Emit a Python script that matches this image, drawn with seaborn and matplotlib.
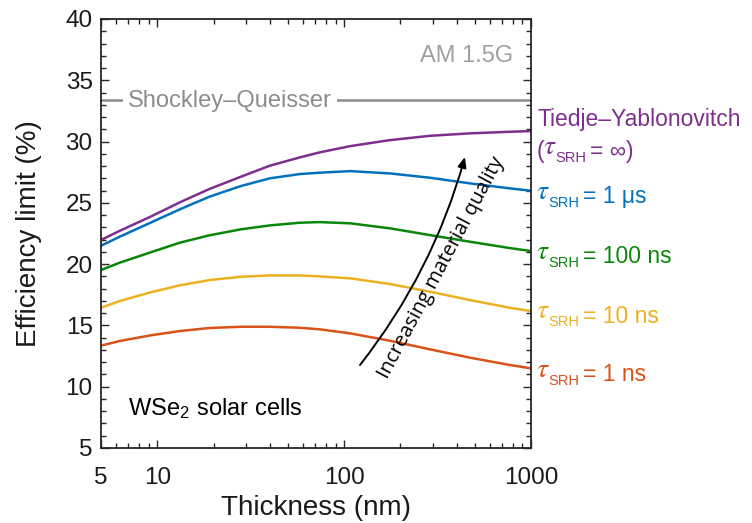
import numpy as np
import pandas as pd
import matplotlib
matplotlib.use("Agg")
import matplotlib.pyplot as plt
import seaborn as sns
from matplotlib.ticker import FixedLocator, NullFormatter, MultipleLocator, LogLocator

# ---------------- data ----------------
thickness = [5, 6.3, 9.2, 13.2, 19, 28, 40, 58, 74, 108, 176, 288, 471, 771, 1000]
eff_ty    = [21.97, 22.72, 23.87, 25.04, 26.13, 27.13, 28.03, 28.71, 29.12, 29.63, 30.12, 30.47, 30.67, 30.80, 30.86]
eff_1us   = [21.50, 22.24, 23.38, 24.47, 25.50, 26.37, 27.00, 27.35, 27.46, 27.59, 27.40, 27.05, 26.59, 26.18, 25.99]
eff_100ns = [19.52, 20.12, 20.96, 21.75, 22.35, 22.84, 23.16, 23.38, 23.43, 23.33, 22.92, 22.37, 21.83, 21.31, 21.07]
eff_10ns  = [16.44, 16.99, 17.70, 18.27, 18.70, 18.97, 19.08, 19.08, 19.00, 18.84, 18.38, 17.75, 17.07, 16.44, 16.17]
eff_1ns   = [13.35, 13.73, 14.19, 14.54, 14.79, 14.89, 14.89, 14.81, 14.68, 14.35, 13.75, 13.05, 12.37, 11.77, 11.50]
sq_limit = 33.4

series_names = ["TY", "1us", "100ns", "10ns", "1ns"]
series_vals = [eff_ty, eff_1us, eff_100ns, eff_10ns, eff_1ns]
colors = ["#7E2F8E", "#0072BD", "#0A870A", "#EDB120", "#D95319"]

tau_values = ["1 \u03bcs", "100 ns", "10 ns", "1 ns"]
tau_label_y = [24.98, 20.06, 15.22, 10.46]
tau_colors = [colors[1], colors[2], colors[3], colors[4]]
ty_label_y = [31.26, 28.63]

xticks = [5, 10, 100, 1000]
xticklabels = ["5", "10", "100", "1000"]
yticks = [5, 10, 15, 20, 25, 30, 35, 40]

# ---------------- style ----------------
sns.set_style("ticks")
plt.rcParams["font.family"] = ["Liberation Sans", "DejaVu Sans"]
plt.rcParams["mathtext.fontset"] = "custom"
plt.rcParams["mathtext.rm"] = "Liberation Sans"
plt.rcParams["mathtext.it"] = "STIXGeneral:italic"

df = pd.DataFrame({
    "Thickness": np.tile(thickness, len(series_names)),
    "Eff": np.concatenate(series_vals),
    "series": np.repeat(series_names, len(thickness)),
})

fig = plt.figure(figsize=(7.52, 5.23), dpi=100)
ax = fig.add_axes([101/752, 75/523, 430/752, 429/523])

sns.lineplot(data=df, x="Thickness", y="Eff", hue="series", hue_order=series_names,
             palette=colors, linewidth=1.8, legend=False, ax=ax, sort=True)

ax.axhline(sq_limit, color="#8C8C8C", lw=1.8, zorder=1)
ax.text(0.063, 32.84, "Shockley\u2013Queisser", transform=ax.get_yaxis_transform(),
        fontsize=17, color="#8C8C8C", va="baseline", ha="left",
        bbox=dict(boxstyle="square,pad=0.2", fc="white", ec="none"), zorder=2)

ax.set_xscale("log")
ax.set_xlim(5, 1000)
ax.set_ylim(5, 40)
ax.xaxis.set_major_locator(FixedLocator(xticks))
ax.set_xticklabels(xticklabels)
ax.xaxis.set_minor_locator(LogLocator(base=10, subs=np.arange(2, 10)))
ax.xaxis.set_minor_formatter(NullFormatter())
ax.set_yticks(yticks)
ax.yaxis.set_minor_locator(MultipleLocator(1))

ax.tick_params(which="both", direction="in", top=True, right=True, color="#262626", width=1.0)
ax.tick_params(which="major", length=6)
ax.tick_params(which="minor", length=3.5)
ax.tick_params(axis="x", which="major", labelsize=17.5, pad=14, labelcolor="#1a1a1a")
ax.tick_params(axis="y", which="major", labelsize=17.5, pad=6, labelcolor="#1a1a1a")
for sp in ax.spines.values():
    sp.set_color("#262626")
    sp.set_linewidth(1.3)

ax.set_xlabel("Thickness (nm)", fontsize=20, color="#1a1a1a", labelpad=4)
ax.set_ylabel("Efficiency limit (%)", fontsize=20, color="#1a1a1a", labelpad=17)

ax.text(0.958, 0.900, "AM 1.5G", transform=ax.transAxes, ha="right", va="baseline",
        fontsize=17, color="#A0A0A0")
ax.text(0.063, 0.0746, "WSe$_2$ solar cells", transform=ax.transAxes, ha="left",
        va="baseline", fontsize=17, color="black")

ytrans = ax.get_yaxis_transform()
PX = 72.0 / 100.0  # points per pixel


def put(txt, yv, dx_px, dy_px, color, size, **kw):
    ax.annotate(txt, xy=(1.0, yv), xycoords=ytrans, xytext=(dx_px * PX, dy_px * PX),
                textcoords="offset points", ha="left", va="baseline", fontsize=size,
                color=color, annotation_clip=False, **kw)


def tau_label(yv, color, tau_dx, rest, rest_dx):
    put("\u03c4", yv, tau_dx, 4.5, color, 20, family=["STIXGeneral", "DejaVu Serif"], style="italic")
    put("SRH", yv, tau_dx + 11, -3.5, color, 10.5)
    put(rest, yv, rest_dx, 0, color, 16.5)


# Tiedje-Yablonovitch labels
put("Tiedje\u2013Yablonovitch", ty_label_y[0], 6, 0, colors[0], 16.5)
put("(", ty_label_y[1], 6, 0, colors[0], 16.5)
tau_label(ty_label_y[1], colors[0], 13, "= \u221e)", 59)

for val, yv, c in zip(tau_values, tau_label_y, tau_colors):
    tau_label(yv, c, 6, "= " + val, 52)

ax.annotate("", xy=(443, 28.74), xytext=(121.6, 11.77),
            arrowprops=dict(arrowstyle="-|>,head_length=0.6,head_width=0.25", color="black",
                            lw=1.4, shrinkA=0, shrinkB=0, connectionstyle="arc3,rad=0.1"))
ax.text(330, 19.68, "Increasing material quality", rotation=62, rotation_mode="anchor",
        ha="center", va="center", fontsize=14.5, family=["Open Sans", "DejaVu Sans"], color="black")

fig.savefig("out.png", dpi=100)
